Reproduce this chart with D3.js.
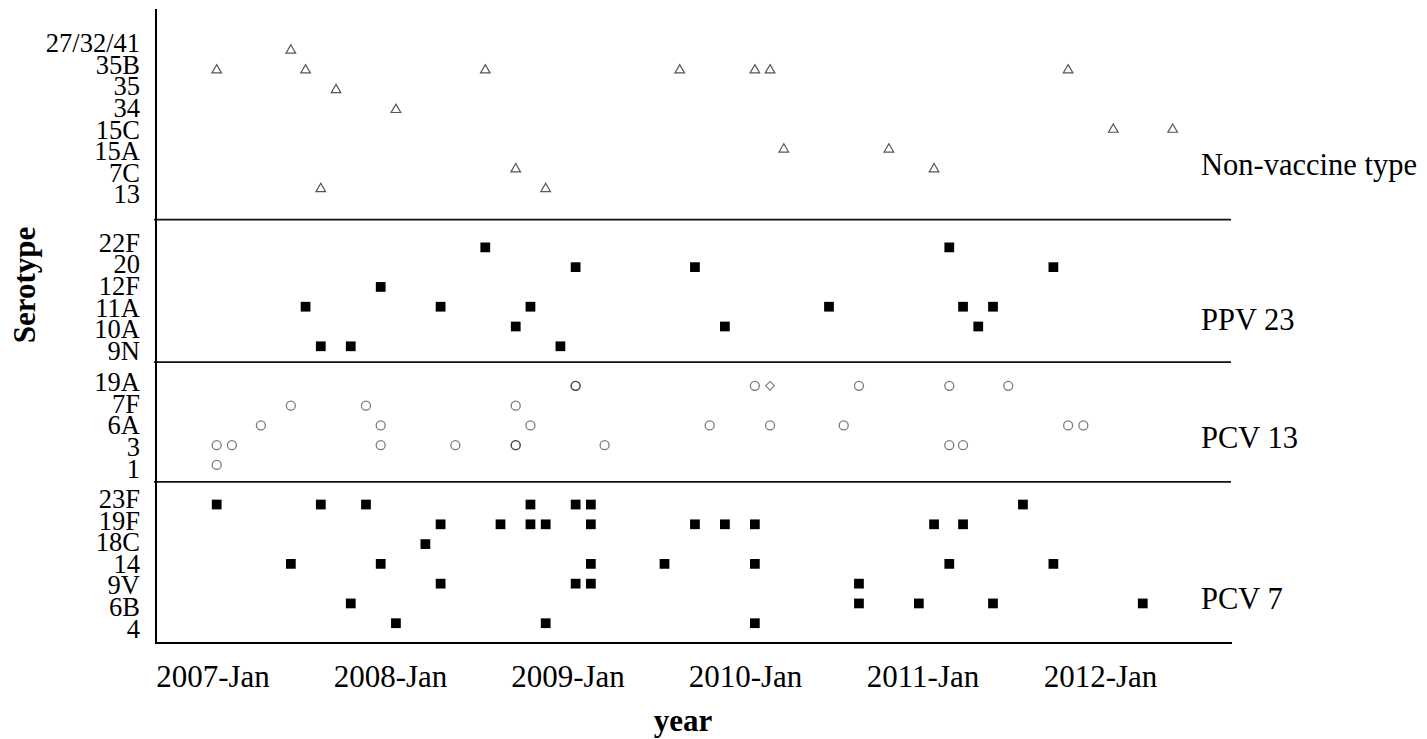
<!DOCTYPE html>
<html>
<head>
<meta charset="utf-8">
<script src="https://cdnjs.cloudflare.com/ajax/libs/d3/7.8.5/d3.min.js"></script>
<style>
  html, body { margin: 0; padding: 0; background: #fff; }
  svg text { font-family: "Liberation Serif", "Times New Roman", serif; fill: #000; }
</style>
</head>
<body>
<div id="chart"></div>
<script>
// serotype groups, top to bottom
var groupNames = ["Non-vaccine type", "PPV 23", "PCV 13", "PCV 7"];
var nonVaccineTypes = ["27/32/41", "35B", "35", "34", "15C", "15A", "7C", "13"];
var ppv23Types = ["22F", "20", "12F", "11A", "10A", "9N"];
var pcv13Types = ["19A", "7F", "6A", "3", "1"];
var pcv7Types = ["23F", "19F", "18C", "14", "9V", "6B", "4"];

// x axis tick labels
var yearTicks = [2007, 2008, 2009, 2010, 2011, 2012];
var yearLabels = ["2007-Jan", "2008-Jan", "2009-Jan", "2010-Jan", "2011-Jan", "2012-Jan"];

// cases: [serotype, month]
var nonVaccineCases = [
  ["27/32/41", "2007-06"],
  ["35B", "2007-01"], ["35B", "2007-07"], ["35B", "2008-07"], ["35B", "2009-08"],
  ["35B", "2010-01"], ["35B", "2010-02"], ["35B", "2011-10"],
  ["35", "2007-09"],
  ["34", "2008-01"],
  ["15C", "2012-01"], ["15C", "2012-05"],
  ["15A", "2010-03"], ["15A", "2010-10"],
  ["7C", "2008-09"], ["7C", "2011-01"],
  ["13", "2007-08"], ["13", "2008-11"]
];

var ppv23Cases = [
  ["22F", "2008-07"], ["22F", "2011-02"],
  ["20", "2009-01"], ["20", "2009-09"], ["20", "2011-09"],
  ["12F", "2007-12"],
  ["11A", "2007-07"], ["11A", "2008-04"], ["11A", "2008-10"], ["11A", "2010-06"],
  ["11A", "2011-03"], ["11A", "2011-05"],
  ["10A", "2008-09"], ["10A", "2009-11"], ["10A", "2011-04"],
  ["9N", "2007-08"], ["9N", "2007-10"], ["9N", "2008-12"]
];

var pcv13Cases = [
  ["19A", "2009-01"], ["19A", "2009-01"], ["19A", "2010-01"], ["19A", "2010-08"],
  ["19A", "2011-02"], ["19A", "2011-06"],
  ["7F", "2007-06"], ["7F", "2007-11"], ["7F", "2008-09"],
  ["6A", "2007-04"], ["6A", "2007-12"], ["6A", "2008-10"], ["6A", "2009-10"],
  ["6A", "2010-02"], ["6A", "2010-07"], ["6A", "2011-10"], ["6A", "2011-11"],
  ["3", "2007-01"], ["3", "2007-02"], ["3", "2007-12"], ["3", "2008-05"],
  ["3", "2008-09"], ["3", "2008-09"], ["3", "2009-03"], ["3", "2011-02"], ["3", "2011-03"],
  ["1", "2007-01"]
];
// the single diamond mark
var pcv13Other = [["19A", "2010-02"]];

var pcv7Cases = [
  ["23F", "2007-01"], ["23F", "2007-08"], ["23F", "2007-11"], ["23F", "2008-10"],
  ["23F", "2009-01"], ["23F", "2009-02"], ["23F", "2011-07"],
  ["19F", "2008-04"], ["19F", "2008-08"], ["19F", "2008-10"], ["19F", "2008-11"],
  ["19F", "2009-02"], ["19F", "2009-09"], ["19F", "2009-11"], ["19F", "2010-01"],
  ["19F", "2011-01"], ["19F", "2011-03"],
  ["18C", "2008-03"],
  ["14", "2007-06"], ["14", "2007-12"], ["14", "2009-02"], ["14", "2009-07"],
  ["14", "2010-01"], ["14", "2011-02"], ["14", "2011-09"],
  ["9V", "2008-04"], ["9V", "2009-01"], ["9V", "2009-02"], ["9V", "2010-08"],
  ["6B", "2007-10"], ["6B", "2010-08"], ["6B", "2010-12"], ["6B", "2011-05"], ["6B", "2012-03"],
  ["4", "2008-01"], ["4", "2008-11"], ["4", "2010-01"]
];

var W = 1427, H = 739;
var svg = d3.select("#chart").append("svg")
  .attr("width", W)
  .attr("height", H);

var parseMonth = d3.utcParse("%Y-%m");

// row slots: groups separated by empty slots
var groups = [nonVaccineTypes, ppv23Types, pcv13Types, pcv7Types];
var groupStart = [0, 10, 17, 23];
var groupLabelSlot = [6.2, 14, 20, 28.15];
var separatorSlots = [8.6, 15.8, 21.85];
var slotOf = {};
groups.forEach(function(g, gi) {
  g.forEach(function(s, i) { slotOf[s] = groupStart[gi] + i; });
});

var plotLeft = 156, plotRight = 1232, plotBottom = 643;

var x = d3.scaleUtc()
  .domain([parseMonth("2007-01"), parseMonth("2012-05")])
  .range([216.7, 1172.7]);

var y = d3.scaleLinear()
  .domain([-2, 30])
  .range([10, plotBottom]);

// tick labels sit on their own spacing
var xLabel = d3.scaleLinear()
  .domain([2007, 2012])
  .range([212.5, 1100]);

// separators
svg.selectAll("line.sep")
  .data(separatorSlots)
  .enter()
  .append("line")
  .attr("class", "sep")
  .attr("x1", plotLeft - 2)
  .attr("x2", plotRight - 1)
  .attr("y1", function(d) { return y(d); })
  .attr("y2", function(d) { return y(d); })
  .attr("stroke", "#111")
  .attr("stroke-width", 1.8);

// axes lines
svg.append("line")
  .attr("x1", plotLeft).attr("x2", plotLeft)
  .attr("y1", 9).attr("y2", plotBottom + 1)
  .attr("stroke", "#000").attr("stroke-width", 2);
svg.append("line")
  .attr("x1", plotLeft - 1).attr("x2", plotRight)
  .attr("y1", plotBottom).attr("y2", plotBottom)
  .attr("stroke", "#000").attr("stroke-width", 2);

// y labels, a bit more spread than the rows
var labelStep = 21.6;
groups.forEach(function(g, gi) {
  var mid = groupStart[gi] + (g.length - 1) / 2;
  svg.selectAll("text.ylab" + gi)
    .data(g)
    .enter()
    .append("text")
    .attr("class", "ylab" + gi)
    .attr("x", 140)
    .attr("y", function(d, i) { return y(mid) + (i - (g.length - 1) / 2) * labelStep + 9; })
    .attr("text-anchor", "end")
    .attr("font-size", "26.5px")
    .text(function(d) { return d; });
});

// group names on the right
svg.selectAll("text.group")
  .data(groupNames)
  .enter()
  .append("text")
  .attr("class", "group")
  .attr("x", 1201)
  .attr("y", function(d, i) { return y(groupLabelSlot[i]) + 3; })
  .attr("font-size", "30.5px")
  .text(function(d) { return d; });

// x axis labels
var xAxis = d3.axisBottom(xLabel)
  .tickValues(yearTicks)
  .tickSize(0)
  .tickFormat(function(d, i) { return yearLabels[i]; });

var gx = svg.append("g")
  .attr("transform", "translate(0," + plotBottom + ")")
  .call(xAxis);
gx.select(".domain").remove();
gx.selectAll("text")
  .attr("y", 44)
  .attr("dy", null)
  .attr("font-size", "31px")
  .attr("font-family", "Liberation Serif, Times New Roman, serif")
  .attr("fill", "#000");

// axis titles
svg.append("text")
  .attr("x", 683)
  .attr("y", 731)
  .attr("text-anchor", "middle")
  .attr("font-size", "31px")
  .attr("font-weight", "bold")
  .text("year");

svg.append("text")
  .attr("transform", "translate(35,285) rotate(-90)")
  .attr("text-anchor", "middle")
  .attr("font-size", "31px")
  .attr("font-weight", "bold")
  .text("Serotype");

function pos(d) {
  return "translate(" + x(parseMonth(d[1])) + "," + y(slotOf[d[0]]) + ")";
}

// non-vaccine: open triangles
svg.selectAll("path.tri")
  .data(nonVaccineCases)
  .enter()
  .append("path")
  .attr("class", "tri")
  .attr("d", d3.symbol().type(d3.symbolTriangle).size(40))
  .attr("transform", function(d) { return pos(d) + " translate(0,0.8)"; })
  .attr("fill", "none")
  .attr("stroke", "#555")
  .attr("stroke-width", 1.2);

// PPV 23 and PCV 7: filled squares
svg.selectAll("path.sq")
  .data(ppv23Cases.concat(pcv7Cases))
  .enter()
  .append("path")
  .attr("class", "sq")
  .attr("d", d3.symbol().type(d3.symbolSquare).size(95))
  .attr("transform", pos)
  .attr("fill", "#000");

// PCV 13: open circles
svg.selectAll("circle.pcv13")
  .data(pcv13Cases)
  .enter()
  .append("circle")
  .attr("class", "pcv13")
  .attr("cx", function(d) { return x(parseMonth(d[1])); })
  .attr("cy", function(d) { return y(slotOf[d[0]]); })
  .attr("r", 4.5)
  .attr("fill", "none")
  .attr("stroke", "#222")
  .attr("stroke-opacity", 0.6)
  .attr("stroke-width", 1.3);

svg.selectAll("path.dia")
  .data(pcv13Other)
  .enter()
  .append("path")
  .attr("class", "dia")
  .attr("d", d3.symbol().type(d3.symbolSquare).size(38))
  .attr("transform", function(d) { return pos(d) + " rotate(45)"; })
  .attr("fill", "none")
  .attr("stroke", "#777")
  .attr("stroke-width", 1.1);
</script>
</body>
</html>
